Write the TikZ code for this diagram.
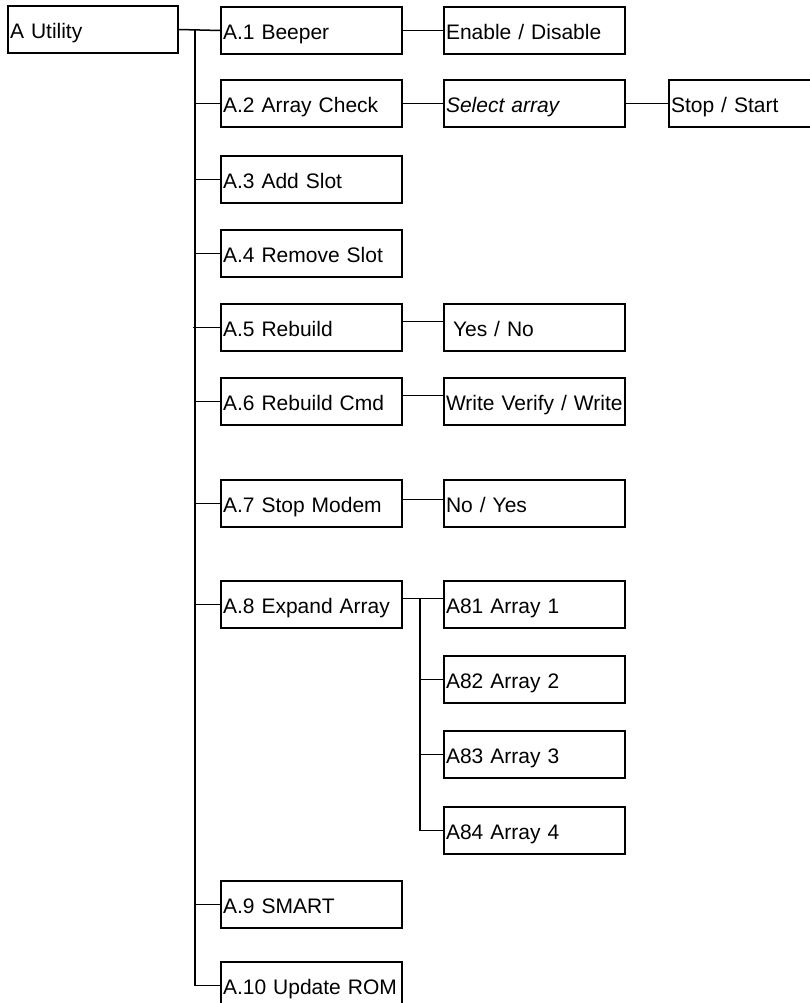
\documentclass[tikz,border=0pt]{standalone}
\usepackage{fontspec}
\setmainfont{Liberation Sans}
\usetikzlibrary{positioning}

\begin{document}
\begin{tikzpicture}[x=1pt, y=-1pt,
  menu/.style={draw, line width=2pt, anchor=north west, minimum height=47pt,
              text width=177pt, inner xsep=2pt, inner ysep=0pt, align=left,
              text height=18pt, text depth=0pt,
              font=\fontsize{21}{24}\selectfont},
  link/.style={line width=1.5pt}
]
  \useasboundingbox (0,0) rectangle (810,1003);

  \node[menu, text width=166pt] (util) at (7,5)   {A Utility};

  \node[menu] (a1)  at (220,6)   {A.1 Beeper};
  \node[menu] (a2)  at (220,79)  {A.2 Array Check};
  \node[menu] (a3)  at (220,155) {A.3 Add Slot};
  \node[menu] (a4)  at (220,229) {A.4 Remove Slot};
  \node[menu] (a5)  at (220,303) {A.5 Rebuild};
  \node[menu] (a6)  at (220,377) {A.6 Rebuild Cmd};
  \node[menu] (a7)  at (220,479) {A.7 Stop Modem};
  \node[menu] (a8)  at (220,580) {A.8 Expand Array};
  \node[menu] (a9)  at (220,880) {A.9 SMART};
  \node[menu] (a10) at (220,961) {A.10 Update ROM};

  \node[menu] (beep)  at (443,6)   {Enable / Disable};
  \node[menu] (sel)   at (443,79)  {\itshape Select array};
  \node[menu] (yesno) at (443,303) {\ Yes / No};
  \node[menu] (wrv)   at (443,377) {Write Verify / Write};
  \node[menu] (noyes) at (443,479) {No / Yes};
  \node[menu] (a81)   at (443,580) {A81 Array 1};
  \node[menu] (a82)   at (443,655) {A82 Array 2};
  \node[menu] (a83)   at (443,730) {A83 Array 3};
  \node[menu] (a84)   at (443,806) {A84 Array 4};

  \node[menu] (stop)  at (668,79)  {Stop / Start};

  \coordinate (trunk) at (195,0);
  \coordinate (sub)   at (420,0);
  \coordinate (a5out) at ([yshift=6pt]a5.east);
  \coordinate (a6out) at ([yshift=6pt]a6.east);
  \coordinate (a7out) at ([yshift=4pt]a7.east);
  \coordinate (a8out) at ([yshift=6pt]a8.east);

  \draw[link] (util.east) -- (a1.west);
  \draw[link] (trunk |- a1.west) -- (trunk |- a10.west);
  \draw[link] (trunk |- a2.west) -- (a2.west);
  \draw[link] (trunk |- a3.west) -- (a3.west);
  \draw[link] (trunk |- a4.west) -- (a4.west);
  \draw[link] ([xshift=-2pt]trunk |- a5.west) -- (a5.west);
  \draw[link] (trunk |- a6.west) -- (a6.west);
  \draw[link] (trunk |- a7.west) -- (a7.west);
  \draw[link] (trunk |- a8.west) -- (a8.west);
  \draw[link] (trunk |- a9.west) -- (a9.west);
  \draw[link] (trunk |- a10.west) -- (a10.west);

  \draw[link] (a1.east) -- (beep.west);
  \draw[link] (a2.east) -- (sel.west);
  \draw[link] (sel.east) -- (stop.west);
  \draw[link] (a5out) -- (a5out -| yesno.west);
  \draw[link] (a6out) -- (a6out -| wrv.west);
  \draw[link] (a7out) -- (a7out -| noyes.west);

  \draw[link] (a8out) -- (a8out -| a81.west);
  \draw[link] (a8out -| sub) -- (sub |- a84.west) -- (a84.west);
  \draw[link] (sub |- a82.west) -- (a82.west);
  \draw[link] (sub |- a83.west) -- (a83.west);
\end{tikzpicture}
\end{document}
